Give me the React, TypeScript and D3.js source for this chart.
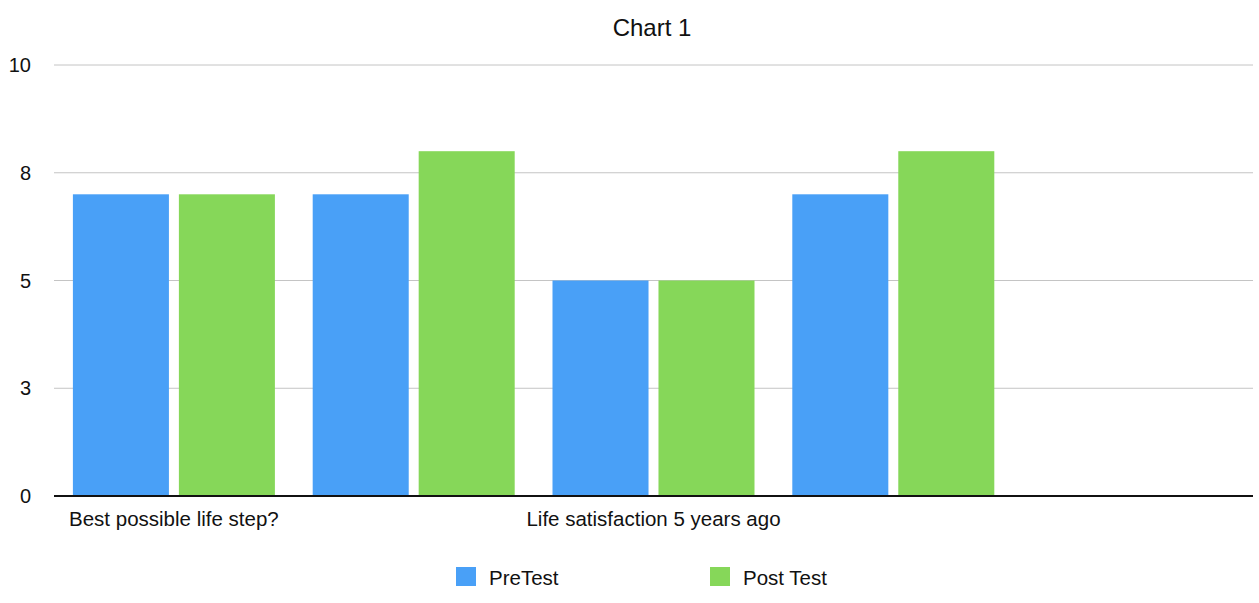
import React from "react";
import * as d3 from "d3";

// Survey questions (only some labels fit under the axis)
const categories = [
  "Best possible life step?",
  "",
  "Life satisfaction 5 years ago",
  "",
  "",
];
const seriesNames = ["PreTest", "Post Test"];
const preTest = [7, 7, 5, 7, null];
const postTest = [7, 8, 5, 8, null];
const yTicks = [0, 2.5, 5, 7.5, 10];
const colors = ["#49A0F7", "#86D759"];

const W = 1259;
const H = 603;
const margin = { left: 54, right: 6, top: 65, bottom: 107 };
const FONT = "'Liberation Sans', Arial, Helvetica, sans-serif";
const GROUP_WIDTH = 202;

export default function App() {
  const x = d3
    .scaleBand<number>()
    .domain(categories.map((_, i) => i))
    .range([margin.left, W - margin.right])
    .padding(0);
  const xs = d3
    .scaleBand<number>()
    .domain([0, 1])
    .range([0, GROUP_WIDTH])
    .paddingInner(0.094);
  const y = d3
    .scaleLinear()
    .domain([0, 10])
    .range([H - margin.bottom, margin.top]);

  const series = [preTest, postTest];
  const groupOffset = (x.bandwidth() - GROUP_WIDTH) / 2;

  return (
    <div style={{ position: "fixed", left: 0, top: 0 }}>
      <svg width={W} height={H} style={{ display: "block", fontFamily: FONT }}>
        <rect width={W} height={H} fill="#fff" />
        <text x={652} y={36} textAnchor="middle" fontSize={24} fill="#111">
          Chart 1
        </text>
        {yTicks.map((t) => (
          <g key={t}>
            {t !== 0 && (
              <line
                x1={margin.left}
                x2={W - margin.right}
                y1={y(t)}
                y2={y(t)}
                stroke="#c4c4c4"
                strokeWidth={1}
              />
            )}
            <text
              x={31}
              y={y(t)}
              dy="0.36em"
              textAnchor="end"
              fontSize={20}
              fill="#111"
            >
              {Math.round(t)}
            </text>
          </g>
        ))}
        {series.map((vals, s) =>
          vals.map((v, i) =>
            v == null ? null : (
              <rect
                key={`${s}-${i}`}
                x={(x(i) ?? 0) + groupOffset + (xs(s) ?? 0)}
                y={y(v)}
                width={xs.bandwidth()}
                height={y(0) - y(v)}
                fill={colors[s]}
              />
            )
          )
        )}
        <line
          x1={margin.left}
          x2={W - margin.right}
          y1={y(0)}
          y2={y(0)}
          stroke="#111"
          strokeWidth={2}
        />
        {categories.map((c, i) =>
          c ? (
            <text
              key={i}
              x={(x(i) ?? 0) + x.bandwidth() / 2}
              y={526}
              textAnchor="middle"
              fontSize={20.5}
              fill="#111"
            >
              {c}
            </text>
          ) : null
        )}
        {seriesNames.map((n, s) => {
          const lx = [456, 710][s];
          return (
            <g key={n}>
              <rect x={lx} y={567} width={20} height={19} fill={colors[s]} />
              <text x={lx + 33} y={584.5} fontSize={20.5} fill="#111">
                {n}
              </text>
            </g>
          );
        })}
      </svg>
    </div>
  );
}
